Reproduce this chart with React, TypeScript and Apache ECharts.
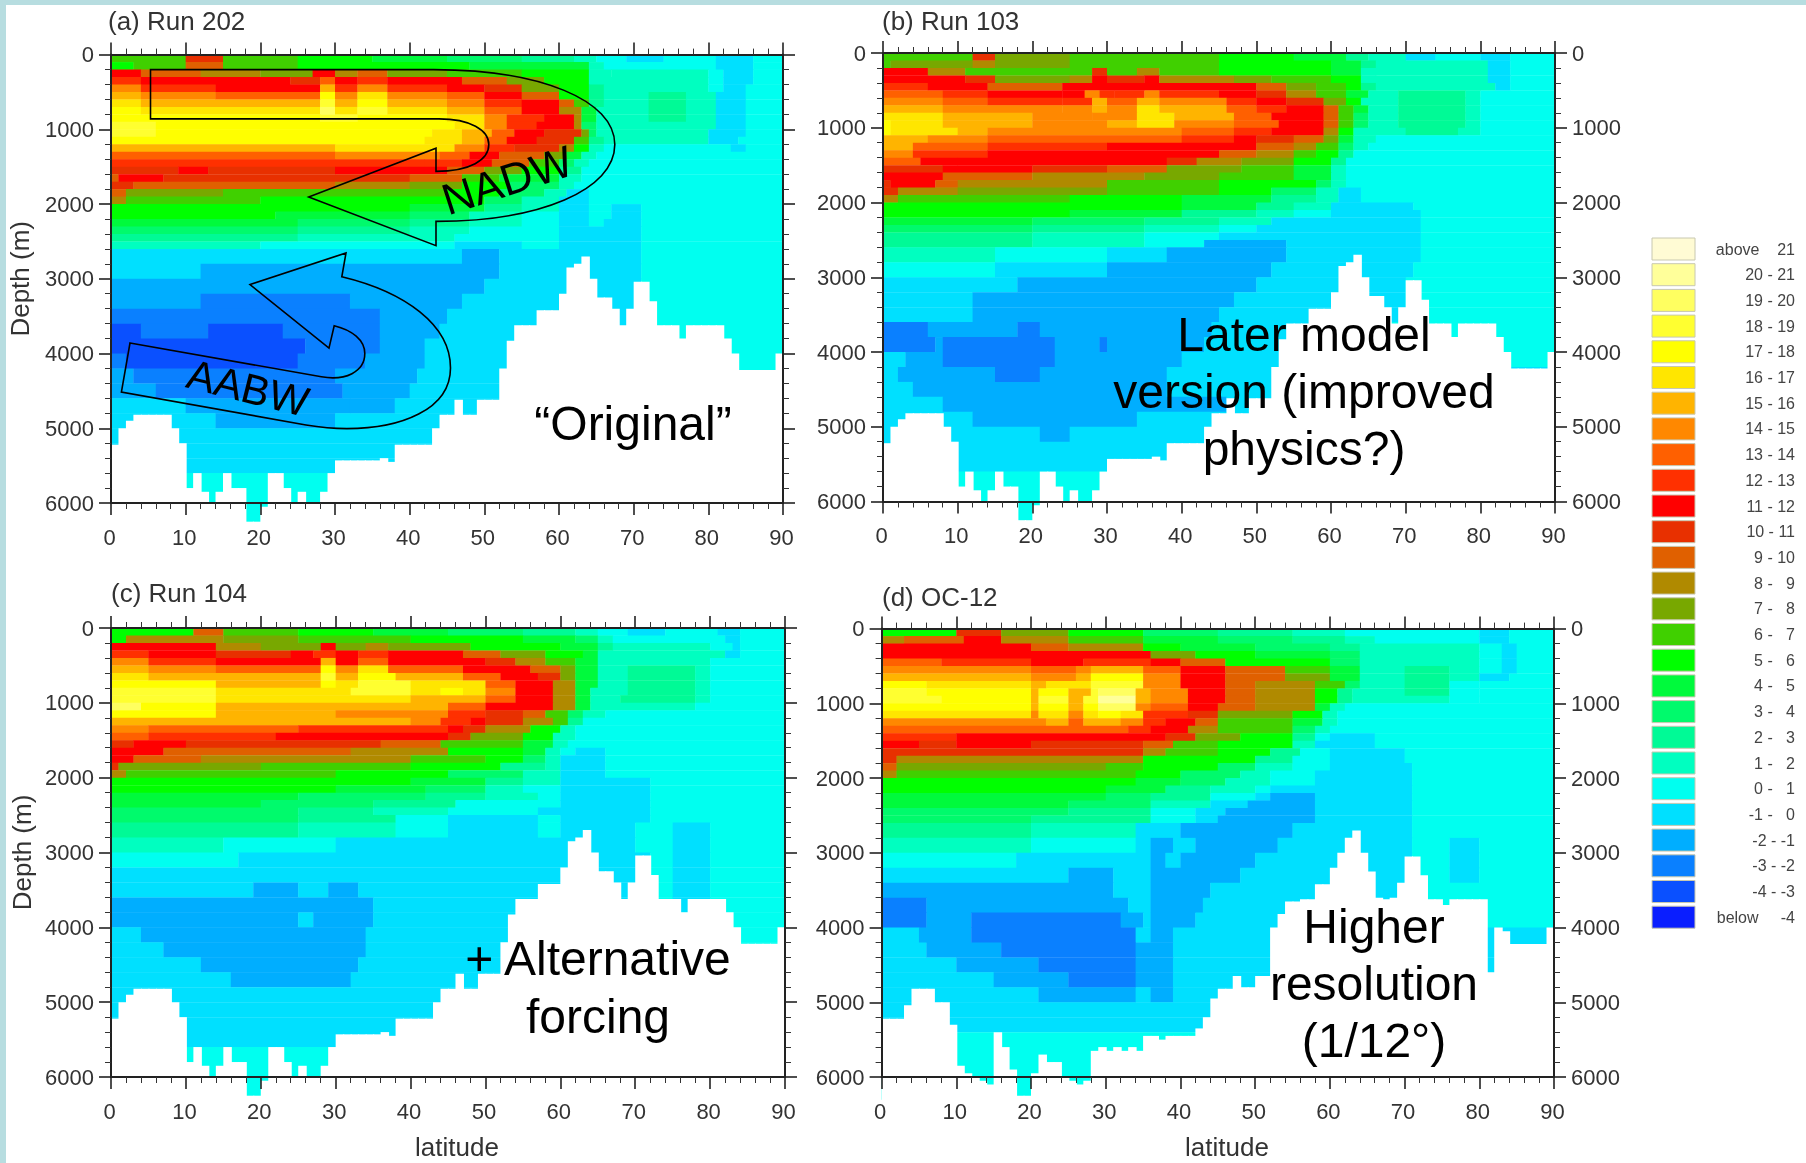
import React, { useEffect, useRef } from "react";
import * as echarts from "echarts";

const FONT = "'Liberation Sans', Arial, sans-serif";

// band value v means the range v .. v+1 (-5 = below -4, 21 = above 21), ordered from -5 up to 21
const bandColors = ["#0a1eff","#0a50ff","#0a80ff","#00aeff","#00e0ff","#00fff0","#00ffc0","#00fa96","#00fa6c","#00fa3c","#00ff00","#40d000","#78a800","#b08a00","#e06000","#e83000","#ff0000","#ff3000","#ff6000","#ff8800","#ffb400","#ffe600","#ffff00","#ffff30","#ffff60","#ffff9a","#fffbd4"];
const legendLabels = ["above\u00a0\u00a0\u00a0\u00a021","20 - 21","19 - 20","18 - 19","17 - 18","16 - 17","15 - 16","14 - 15","13 - 14","12 - 13","11 - 12","10 - 11","9 - 10","8 - \u00a0\u00a09","7 - \u00a0\u00a08","6 - \u00a0\u00a07","5 - \u00a0\u00a06","4 - \u00a0\u00a05","3 - \u00a0\u00a04","2 - \u00a0\u00a03","1 - \u00a0\u00a02","0 - \u00a0\u00a01","-1 - \u00a0\u00a00","-2 - -1","-3 - -2","-4 - -3","below\u00a0\u00a0\u00a0\u00a0\u00a0-4"];

// top depth of every row, m
const depthEdges = [0,100,200,300,400,500,600,700,800,900,1000,1100,1200,1300,1400,1500,1600,1700,1800,1900,2000,2100,2200,2300,2400,2500,2600,2800,3000,3200,3400,3600,3800,4000,4200,4400,4600,4800,5000,5200,5400,5600,5800,6000,6300];

// each row: end latitude, band, end latitude, band ...
const run202 = [
[10,6,15,10,25,6,35,5,45,4,55,3,62,2,65,1,69,0,74,-1,81,0,86,-1,90,0],
[3,5,10,6,15,9,25,6,48,5,64,4,66,1,81,0,86,-1,90,0],
[4,11,12,9,20,8,27,7,30,11,33,8,37,9,45,7,55,6,64,5,67,1,80,1,82,0,86,-1,90,0],
[4,12,24,11,28,10,30,13,33,11,37,12,47,11,53,9,58,7,64,5,80,1,82,0,86,-1,90,0],
[4,14,14,12,28,11,30,15,33,12,37,14,45,12,50,11,55,10,60,7,64,5,66,2,80,1,82,0,85,-1,90,0],
[4,15,14,14,28,13,30,17,33,14,37,16,45,14,50,13,55,11,60,9,64,5,66,2,72,1,77,2,81,1,85,-1,90,0],
[4,16,28,15,30,18,33,15,37,17,45,15,50,14,55,12,60,11,62,9,64,6,66,2,72,1,77,2,81,1,85,-1,90,0],
[4,17,28,16,30,19,33,16,37,18,45,16,50,15,55,13,60,11,63,8,65,4,72,1,77,2,81,1,85,-1,90,0],
[28,17,33,18,45,17,50,16,53,14,58,12,62,11,63,8,65,4,72,1,77,2,81,1,85,-1,90,0],
[6,18,46,17,50,16,53,14,57,12,62,11,63,8,65,3,81,1,85,-1,90,0],
[6,18,43,17,47,16,51,15,54,13,58,11,63,10,64,7,65,3,80,1,85,-1,90,0],
[42,17,47,16,50,15,53,13,57,11,62,10,64,6,66,2,80,1,84,-1,90,0],
[30,15,46,16,50,14,54,12,60,10,62,8,64,5,66,1,83,0,85,-1,90,0],
[30,13,44,14,48,13,52,11,58,9,61,7,63,4,65,1,90,0],
[42,12,47,12,51,11,56,9,60,6,62,3,64,1,90,0],
[9,10,13,11,30,10,45,11,50,9,55,7,60,5,63,2,90,0],
[1,9,7,11,40,10,47,9,52,6,60,4,63,1,90,0],
[3,10,30,9,40,8,47,7,53,5,60,3,62,1,90,0],
[2,9,15,7,45,6,52,5,58,3,61,1,64,-1,90,0],
[2,8,20,6,50,5,55,3,60,1,64,-1,90,0],
[40,5,50,4,55,2,60,1,64,-1,67,0,71,-1,90,0],
[22,5,40,4,48,3,55,1,60,0,64,-1,67,0,71,-1,90,0],
[25,4,40,3,48,2,55,1,60,0,64,-1,66,0,71,-1,90,0],
[25,3,40,2,48,1,60,0,71,-1,90,0],
[25,2,46,1,60,0,71,-1,90,0],
[20,1,46,0,55,-1,60,0,71,-1,90,0],
[47,-1,52,-2,71,-1,90,0],
[12,-1,52,-2,71,-1,90,0],
[50,-2,71,-1,90,0],
[12,-2,32,-3,47,-2,71,-1,90,0],
[36,-3,45,-2,72,-1,90,0],
[4,-4,13,-3,23,-4,36,-3,44,-2,72,-1,90,0],
[26,-4,36,-3,42,-2,60,-1,90,0],
[2,-3,25,-4,34,-3,42,-2,60,-1,90,0],
[3,-2,30,-3,41,-2,60,-1,90,0],
[6,-2,31,-3,40,-2,90,-1],
[10,-1,32,-2,38,-2,90,-1],
[14,-1,30,-2,90,-1],
[90,-1],[90,-1],[90,-1],[90,0],[90,0],[90,0],
];

const run103 = [
[12,6,15,10,25,7,45,6,55,5,62,4,65,2,70,1,74,-1,80,0,84,-1,90,0],
[1,6,12,7,15,8,25,7,45,6,60,5,64,4,66,2,81,1,84,-1,90,0],
[6,11,11,8,28,6,30,10,34,6,37,8,45,6,60,5,64,4,66,1,81,1,84,-1,90,0],
[11,11,15,10,25,7,28,8,30,11,35,10,37,11,47,8,52,7,60,6,64,5,66,1,81,1,84,-1,90,0],
[6,12,14,11,24,9,50,11,54,9,58,7,62,6,64,5,66,2,82,1,84,-1,90,0],
[8,13,14,12,24,11,27,11,29,14,31,12,35,12,37,14,45,12,50,11,54,10,58,8,62,6,65,4,69,1,78,2,80,1,90,0],
[8,14,14,13,24,12,28,12,30,15,34,13,37,15,46,14,50,12,54,11,59,10,62,7,64,5,69,1,78,2,80,1,90,0],
[8,15,24,14,28,14,30,15,34,14,37,16,46,15,50,13,54,12,59,11,61,9,63,6,65,4,69,1,78,2,80,1,90,0],
[8,16,20,15,28,14,34,14,39,16,47,15,52,13,59,11,61,9,63,6,65,3,69,1,78,2,80,1,90,0],
[1,17,8,16,20,15,30,14,34,15,39,16,47,14,53,13,59,11,61,9,63,6,65,3,69,1,78,2,80,1,90,0],
[1,17,10,16,14,15,40,14,47,13,52,12,59,11,61,8,63,5,70,1,77,2,80,1,90,0],
[6,15,14,14,40,13,47,12,50,11,55,10,59,9,61,7,63,4,66,1,90,0],
[4,15,14,13,30,12,50,11,55,9,58,8,61,6,63,3,65,1,90,0],
[4,14,14,12,45,11,50,9,55,8,58,6,61,5,63,2,90,0],
[5,13,10,11,38,11,42,10,48,8,55,7,60,5,62,2,90,0],
[8,10,20,11,30,10,38,9,48,7,55,6,60,4,62,1,90,0],
[8,11,20,9,35,8,45,7,55,6,60,4,62,1,90,0],
[1,10,7,11,10,9,30,8,45,6,58,5,60,3,62,1,90,0],
[2,10,10,8,30,7,45,6,52,5,58,3,61,1,64,-1,90,0],
[2,8,25,6,40,5,52,4,58,2,61,1,64,-1,90,0],
[40,5,50,4,55,2,60,1,71,-1,90,0],
[25,5,40,4,50,2,55,1,60,0,72,-1,90,0],
[20,4,35,3,45,2,52,1,72,-1,90,0],
[20,3,35,2,45,1,50,0,72,-1,90,0],
[20,2,35,1,45,0,72,-1,90,0],
[20,2,35,1,43,0,54,-2,72,-1,90,0],
[15,1,30,0,38,-1,54,-2,72,-1,90,0],
[15,0,30,-1,52,-2,71,-1,90,0],
[18,-1,50,-2,70,-1,90,0],
[12,-1,47,-2,70,-1,90,0],
[12,-1,45,-2,70,-1,90,0],
[6,-3,18,-2,21,-3,44,-2,60,-1,90,0],
[7,-3,8,-2,23,-3,29,-2,30,-3,43,-2,60,-1,90,0],
[3,-1,8,-2,23,-3,40,-2,60,-1,90,0],
[2,-1,15,-2,21,-3,38,-2,90,-1],
[4,-1,38,-2,90,-1],
[8,-1,46,-2,90,-1],
[12,-1,34,-2,90,-1],
[21,-1,25,-2,90,-1],
[90,-1],[90,-1],[90,0],[90,0],[90,0],
];

const run104 = [
[11,5,15,9,25,6,35,5,45,4,55,3,62,2,65,1,69,0,74,-1,81,0,84,-1,90,0],
[2,5,15,8,25,7,40,6,55,5,62,4,65,3,67,1,82,0,84,-1,90,0],
[14,11,20,8,28,7,30,11,34,7,37,8,48,7,60,5,65,4,67,2,80,1,83,0,84,-1,90,0],
[5,12,14,11,24,10,27,11,30,12,33,11,37,12,47,11,52,9,58,7,63,5,65,4,67,1,82,1,84,-1,90,0],
[5,14,14,12,28,11,30,15,33,11,37,13,50,11,54,10,58,8,62,6,65,4,80,1,90,0],
[5,15,14,14,28,13,30,17,33,14,37,16,47,13,56,11,60,9,62,7,65,4,69,1,78,2,80,1,90,0],
[5,16,28,15,30,18,33,15,38,17,47,15,52,13,57,11,60,10,62,7,65,4,69,1,78,2,80,1,90,0],
[14,17,28,15,30,17,33,16,40,18,50,16,54,13,59,11,62,8,65,4,69,1,78,2,80,1,90,0],
[14,18,32,16,40,18,44,16,47,17,50,16,54,14,59,11,62,8,64,4,69,1,78,2,80,1,90,0],
[14,18,40,16,50,15,54,13,59,11,62,8,64,4,68,1,78,2,80,1,90,0],
[4,19,14,17,45,15,50,13,59,11,62,8,64,4,78,1,90,0],
[14,17,30,15,45,14,50,12,55,10,58,9,61,6,63,3,66,1,90,0],
[40,15,44,14,48,12,50,11,55,10,59,8,61,6,63,2,90,0],
[5,14,25,13,45,12,47,11,50,10,56,8,60,5,62,1,90,0],
[5,13,22,12,45,11,48,10,55,7,59,5,62,1,90,0],
[3,10,10,11,36,10,44,9,55,6,59,4,61,1,90,0],
[7,11,32,9,45,8,55,5,58,4,60,1,62,0,66,-1,90,0],
[3,11,12,9,40,8,50,6,55,5,58,3,60,1,66,-1,90,0],
[1,10,20,7,40,6,52,5,58,2,60,1,66,-1,90,0],
[2,8,30,6,45,5,55,3,60,1,66,-1,90,0],
[40,5,50,4,55,2,60,1,72,-1,90,0],
[30,5,42,4,50,3,55,1,60,0,72,-1,90,0],
[25,4,42,3,50,2,57,1,60,0,72,-1,90,0],
[20,4,35,3,46,2,60,0,72,-1,90,0],
[25,3,35,2,45,1,57,0,72,-1,90,0],
[25,3,38,2,45,0,57,-1,60,0,72,-1,90,0],
[25,2,38,1,45,0,57,-1,60,0,70,-1,75,0,80,-1,90,0],
[15,1,30,0,70,-1,75,0,80,-1,90,0],
[17,0,72,-1,75,0,80,-1,90,0],
[72,-1,75,0,80,-1,90,0],
[19,-1,25,-2,29,-1,33,-2,72,-1,75,0,80,-1,90,0],
[35,-2,72,-1,75,0,80,-1,90,0],
[25,-2,27,-1,35,-2,72,-1,90,0],
[4,-1,34,-2,72,-1,90,0],
[7,-1,34,-2,60,-1,90,0],
[12,-1,33,-2,60,-1,90,0],
[16,-1,32,-2,60,-1,90,0],
[90,-1],[90,-1],[90,-1],[90,-1],[90,0],[90,0],[90,0],
];

const oc12 = [
[10,5,16,10,25,7,35,5,45,3,55,2,62,1,80,0,84,-1,90,0],
[3,8,11,9,16,11,25,8,35,6,45,4,55,3,62,2,66,1,80,0,84,-1,90,0],
[20,11,25,9,35,8,40,5,50,4,60,3,64,2,80,1,83,0,85,-1,90,0],
[36,11,42,7,50,5,60,4,64,3,80,1,83,0,85,-1,90,0],
[8,13,20,12,27,11,36,12,40,11,46,9,60,5,64,3,80,1,83,0,85,-1,90,0],
[20,14,26,13,28,14,35,15,40,13,46,11,54,9,60,6,64,4,70,1,76,2,80,1,83,0,85,-1,90,0],
[20,15,26,14,28,15,35,17,40,14,46,11,54,9,60,7,64,4,70,1,76,2,80,1,84,-1,90,0],
[6,17,20,16,22,15,28,16,35,18,40,14,46,11,50,9,58,8,62,6,64,3,70,1,76,2,80,0,90,0],
[6,18,20,17,21,15,25,17,28,15,29,18,34,19,36,15,41,14,46,11,50,9,58,8,61,5,63,2,70,1,76,2,80,0,90,0],
[8,18,20,17,21,15,25,18,27,15,29,18,34,20,36,15,41,14,46,11,50,9,58,8,61,5,63,2,76,1,80,0,90,0],
[20,17,21,15,25,17,27,15,29,17,34,19,36,14,41,13,45,11,50,9,58,8,60,4,62,1,90,0],
[20,16,21,14,25,16,27,14,29,16,32,17,35,16,41,12,45,10,55,7,59,5,61,1,90,0],
[22,14,25,15,27,13,32,15,35,14,38,12,42,11,45,9,55,6,59,4,61,1,90,0],
[33,13,36,12,41,11,45,8,55,6,58,3,60,1,90,0],
[10,12,38,11,42,10,48,7,55,5,58,2,60,0,66,-1,90,0],
[5,11,10,10,20,11,35,10,39,9,45,6,55,5,58,1,66,-1,90,0],
[35,10,38,8,45,6,52,5,56,2,60,0,70,-1,90,0],
[2,10,35,8,50,5,55,2,60,0,70,-1,90,0],
[2,9,30,7,35,6,45,5,50,3,55,1,60,0,71,-1,90,0],
[2,8,34,6,40,5,48,3,52,1,58,0,71,-1,90,0],
[34,5,40,4,46,3,52,1,58,0,71,-1,90,0],
[30,5,38,4,44,2,50,1,52,0,71,-1,90,0],
[30,4,36,3,44,2,50,0,52,-1,58,-2,71,-1,90,0],
[25,4,36,3,44,1,49,-1,58,-2,71,-1,90,0],
[25,3,36,2,42,0,46,-1,58,-2,71,-1,90,0],
[20,3,36,2,42,0,45,-1,58,-2,71,-1,90,0],
[20,2,34,1,40,-1,55,-2,71,-1,90,0],
[20,1,34,0,36,-1,39,-2,42,-1,53,-2,71,-1,76,0,80,-1,90,0],
[18,0,36,-1,38,-2,40,-1,50,-2,71,-1,76,0,80,-1,90,0],
[25,-1,31,-2,36,-1,48,-2,71,-1,76,0,80,-1,90,0],
[31,-2,36,-1,44,-2,71,-1,90,0],
[6,-3,33,-2,36,-1,43,-2,71,-1,90,0],
[6,-3,12,-2,32,-3,35,-2,36,-1,42,-2,71,-1,90,0],
[5,-1,12,-2,34,-3,36,-1,39,-2,90,-1],
[6,-1,16,-2,34,-3,39,-2,90,-1],
[10,-1,21,-2,34,-3,39,-2,90,-1],
[15,-1,25,-2,34,-3,39,-2,90,-1],
[21,-1,34,-2,36,-1,39,-2,90,-1],
[90,-1],[90,-1],[90,0],[90,0],[90,0],[90,0],
];

// deepest ocean depth per degree of latitude (0-89)
const seaFloorCoarse = [5220,5000,4900,4820,4820,4820,4820,4820,5000,5200,5800,5600,5850,6000,5850,5600,5800,5800,6250,6250,6050,5600,5600,5800,6000,5850,6000,6000,5850,5600,5430,5430,5430,5430,5430,5430,5400,5450,5220,5220,5220,5220,5220,5000,4820,4820,4620,4820,4820,4620,4620,4620,4200,3830,3620,3620,3620,3420,3420,3420,3200,2850,2800,2700,3000,3250,3250,3400,3620,3400,3040,3040,3300,3620,3620,3620,3800,3620,3620,3620,3620,3620,3800,4000,4220,4220,4220,4220,4220,4000];
const seaFloorFine = [5220,5220,5220,5040,4820,4820,4820,5000,5000,5300,5850,5950,6000,6050,6100,5400,5600,5900,6250,6250,5950,5700,5800,5800,6000,6050,6100,6050,5650,5600,5650,5600,5650,5600,5650,5450,5450,5500,5450,5450,5450,5450,5350,5200,4950,4820,4820,4650,4800,4800,4650,4650,4000,3820,3650,3650,3620,3620,3420,3420,3200,3000,2800,2700,3000,3250,3600,3620,3600,3400,3050,3050,3300,3620,3620,3700,3620,3620,3620,3620,3620,4600,4000,4050,4220,4220,4220,4220,4220,4000];

const panelTitles = ["(a) Run 202", "(b) Run 103", "(c) Run 104", "(d) OC-12"];
const panelRows = [run202, run103, run104, oc12];
const panelFloors = [seaFloorCoarse, seaFloorCoarse, seaFloorCoarse, seaFloorFine];

const grids = [
  { left: 111, top: 54.6, width: 672, height: 448.4 },
  { left: 883, top: 53, width: 672, height: 448.5 },
  { left: 111, top: 628, width: 674, height: 449 },
  { left: 881.6, top: 628.6, width: 672.4, height: 448.4 },
];
const titlePos = [[108, 8], [882, 8], [111, 580], [882, 584]];
const depthNameGap = [78, 0, 76, 0];

function cellsOf(rows: number[][]) {
  const out: number[][] = [];
  rows.forEach((row, r) => {
    let start = 0;
    for (let i = 0; i < row.length; i += 2) {
      out.push([start, row[i], depthEdges[r], depthEdges[r + 1], row[i + 1]]);
      start = row[i];
    }
  });
  return out;
}

function floorOf(floor: number[]) {
  return floor.map((d, lat) => [lat, lat + 1, d, 6315]);
}

const renderCell = (_: any, api: any) => {
  const a = api.coord([api.value(0), api.value(2)]);
  const b = api.coord([api.value(1), api.value(3)]);
  return {
    type: "rect",
    shape: { x: a[0], y: a[1], width: b[0] - a[0] + 0.4, height: b[1] - a[1] + 0.4 },
    style: { fill: bandColors[api.value(4) + 5] },
  };
};
const renderFloor = (_: any, api: any) => {
  const a = api.coord([api.value(0), api.value(2)]);
  const b = api.coord([api.value(1), api.value(3)]);
  return {
    type: "rect",
    shape: { x: a[0], y: a[1], width: b[0] - a[0] + 1, height: b[1] - a[1] },
    style: { fill: "#ffffff" },
  };
};

const NADW = "M150.5 69.6 L433.7 69.6 C540 69.6 614.8 100 614.8 144.6 C614.8 190 540 221.4 436 221.4 L436 245.7 L308.7 197 L436 148.2 L436 171.4 C470 171.4 488.8 160 488.8 144.6 C488.8 130 470 118.9 438.8 118.9 L150.5 118.9 Z";
const AABW = "M130 343 L321.4 376.8 C345 381 364.8 372 364.8 353.6 C364.8 340 352 330 334.2 325.7 L329 348.2 L250 284.6 L346 252.9 L341.8 276.8 C405 292 450.5 325 450.5 367.9 C450.5 410 400 428.6 347 428.6 C332 428.6 318 427 306 425 L121.4 392 Z";

const noteLines = [
  { t: "\u201cOriginal\u201d", x: 633, y: 423 },
  { t: "Later model", x: 1304, y: 334 },
  { t: "version (improved", x: 1304, y: 391 },
  { t: "physics?)", x: 1304, y: 448 },
  { t: "+ Alternative", x: 598, y: 958 },
  { t: "forcing", x: 598, y: 1016 },
  { t: "Higher", x: 1374, y: 926 },
  { t: "resolution", x: 1374, y: 983 },
  { t: "(1/12\u00b0)", x: 1374, y: 1040 },
];

function buildOption() {
  const xAxis: any[] = [];
  const yAxis: any[] = [];
  const series: any[] = [];
  const line = { lineStyle: { color: "#222", width: 2 } };
  const tick = { length: 12, lineStyle: { color: "#222", width: 1.6 } };
  const minor = { show: true, splitNumber: 5, length: 6, lineStyle: { color: "#333", width: 1 } };
  const label = { color: "#333", fontSize: 22, fontFamily: FONT, formatter: (v: number) => String(v) };
  grids.forEach((_, i) => {
    const rightLabels = i % 2 === 1;
    [0, 1].forEach((top) => {
      xAxis.push({
        gridIndex: i, type: "value", min: 0, max: 90, interval: 10, position: top ? "top" : "bottom", z: 5,
        axisLine: { show: true, onZero: false, ...line }, axisTick: { show: true, ...tick }, minorTick: minor,
        splitLine: { show: false }, minorSplitLine: { show: false },
        axisLabel: { show: !top, margin: 23, padding: [0, 3, 0, 0], ...label },
      });
      yAxis.push({
        gridIndex: i, type: "value", min: 0, max: 6000, interval: 1000, inverse: true, position: top ? "right" : "left", z: 5,
        axisLine: { show: true, onZero: false, ...line }, axisTick: { show: true, ...tick }, minorTick: minor,
        splitLine: { show: false }, minorSplitLine: { show: false },
        axisLabel: { show: top ? rightLabels : true, margin: 17, ...label },
        ...(top || rightLabels ? {} : { name: "Depth (m)", nameLocation: "middle", nameRotate: 90, nameGap: depthNameGap[i], nameTextStyle: { color: "#333", fontSize: 26, fontFamily: FONT } }),
      });
    });
    series.push({
      type: "custom", xAxisIndex: i * 2, yAxisIndex: i * 2, renderItem: renderCell, silent: true, z: 1, progressive: 0,
      encode: { x: [0, 1], y: [2, 3] }, data: cellsOf(panelRows[i]),
    });
    series.push({
      type: "custom", xAxisIndex: i * 2, yAxisIndex: i * 2, renderItem: renderFloor, silent: true, z: 2, progressive: 0,
      encode: { x: [0, 1], y: [2, 3] }, data: floorOf(panelFloors[i]),
    });
  });

  const legendRows = legendLabels.map((text, i) => {
    const y = 238 + i * 25.7;
    return [
      { type: "rect", shape: { x: 1652, y, width: 43, height: 22 }, style: { fill: bandColors[26 - i], stroke: "#c8c8b0", lineWidth: 1 } },
      { type: "text", style: { x: 1795, y: y + 11, text, align: "right", verticalAlign: "middle", fontSize: 16, fontFamily: FONT, fill: "#444" } },
    ];
  }).flat();

  const elements: any[] = [
    { type: "rect", shape: { x: 0, y: 0, width: 1806, height: 5 }, style: { fill: "#b7dde0" } },
    { type: "rect", shape: { x: 0, y: 0, width: 6, height: 1163 }, style: { fill: "#b7dde0" } },
    ...legendRows,
    { type: "text", style: { x: 457, y: 1147, text: "latitude", align: "center", verticalAlign: "middle", fontSize: 26, fontFamily: FONT, fill: "#333" } },
    { type: "text", style: { x: 1227, y: 1147, text: "latitude", align: "center", verticalAlign: "middle", fontSize: 26, fontFamily: FONT, fill: "#333" } },
    { type: "nadwArrow", x: 0, y: 0, style: { fill: "none", stroke: "#000", lineWidth: 1.6 } },
    { type: "aabwArrow", x: 0, y: 0, style: { fill: "none", stroke: "#000", lineWidth: 1.6 } },
    { type: "text", x: 507, y: 180, rotation: 18 * Math.PI / 180, style: { x: 0, y: 0, text: "NADW", align: "center", verticalAlign: "middle", fontSize: 44, fontFamily: FONT, fill: "#000" } },
    { type: "text", x: 248, y: 388, rotation: -14 * Math.PI / 180, style: { x: 0, y: 0, text: "AABW", align: "center", verticalAlign: "middle", fontSize: 42, fontFamily: FONT, fill: "#000" } },
    ...noteLines.map((n) => ({ type: "text", style: { x: n.x, y: n.y, text: n.t, align: "center", verticalAlign: "middle", fontSize: 48, fontFamily: FONT, fill: "#000" } })),
  ];

  return {
    animation: false,
    backgroundColor: "#ffffff",
    title: panelTitles.map((text, i) => ({
      text, left: titlePos[i][0], top: titlePos[i][1], padding: 0,
      textStyle: { fontSize: 26, fontWeight: "normal", fontFamily: FONT, color: "#333" },
    })),
    grid: grids.map((g) => ({ ...g, containLabel: false })),
    xAxis, yAxis, series,
    graphic: { elements: elements.map((e) => ({ z: 100, silent: true, ...e })) },
  };
}

export default function App() {
  const ref = useRef<HTMLDivElement>(null);
  useEffect(() => {
    document.body.style.margin = "0";
    echarts.graphic.registerShape("nadwArrow", (echarts.graphic as any).extendPath(NADW, {}));
    echarts.graphic.registerShape("aabwArrow", (echarts.graphic as any).extendPath(AABW, {}));
    const chart = echarts.init(ref.current!, undefined, { renderer: "svg" });
    chart.setOption(buildOption() as any);
    return () => chart.dispose();
  }, []);
  return <div ref={ref} style={{ width: 1806, height: 1163, filter: "blur(0.6px)" }} />;
}
